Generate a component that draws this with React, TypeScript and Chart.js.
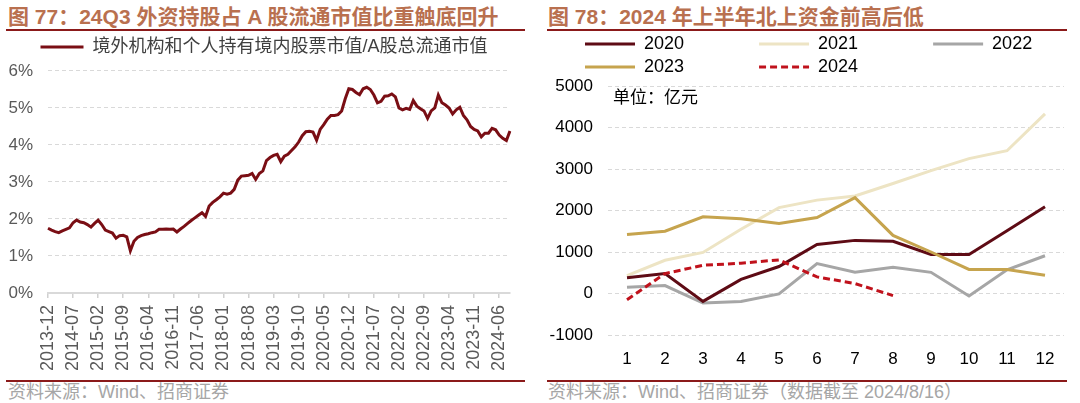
import React, { useEffect, useRef } from "react";
import { Chart, registerables } from "chart.js";

Chart.register(...registerables);

const FONT = '"Liberation Sans", "Noto Sans CJK SC", sans-serif';

// ---------- Figure 77 data ----------
const shareSeriesName = "境外机构和个人持有境内股票市值/A股总流通市值";
// monthly, 2013-12 .. 2024-09 (%)
const shareValues = [
  1.75, 1.7, 1.66, 1.63, 1.68, 1.72, 1.76, 1.9, 1.97, 1.92, 1.9, 1.85,
  1.78, 1.88, 1.97, 1.85, 1.7, 1.66, 1.62, 1.48, 1.55, 1.56, 1.52, 1.14,
  1.4, 1.5, 1.55, 1.58, 1.6, 1.63, 1.65, 1.72, 1.72, 1.73, 1.72, 1.73,
  1.65, 1.73, 1.8, 1.88, 1.96, 2.03, 2.1, 2.17, 2.07, 2.35, 2.45, 2.52,
  2.6, 2.7, 2.67, 2.7, 2.8, 3.05, 3.16, 3.17, 3.18, 3.23, 3.07, 3.23,
  3.3, 3.58, 3.66, 3.72, 3.75, 3.55, 3.7, 3.75, 3.85, 3.95, 4.08, 4.25,
  4.36, 4.37, 4.35, 4.13, 4.42, 4.55, 4.7, 4.8, 4.8, 4.82, 4.92, 5.25,
  5.52, 5.5, 5.42, 5.36, 5.52, 5.56, 5.5, 5.35, 5.14, 5.18, 5.32, 5.33,
  5.38, 5.3, 5.0, 4.95, 4.99, 4.96, 5.2, 5.05, 4.98, 4.92, 4.72, 4.92,
  5.0, 5.35, 5.14, 5.08, 5.0, 4.84, 4.95, 5.02, 4.8, 4.68, 4.5, 4.42,
  4.38, 4.22, 4.32, 4.32, 4.45, 4.41, 4.27, 4.18, 4.12, 4.38,
];
const shareMonths = shareValues.map((_, i) => {
  const m = 11 + i;
  const y = 2013 + Math.floor(m / 12);
  const mm = (m % 12) + 1;
  return `${y}-${String(mm).padStart(2, "0")}`;
});
const shareTickStep = 7;
const shareYTicks = [0, 1, 2, 3, 4, 5, 6];

// ---------- Figure 78 data ----------
const monthLabels = ["1", "2", "3", "4", "5", "6", "7", "8", "9", "10", "11", "12"];
const flow2020 = [380, 480, -190, 340, 650, 1180, 1280, 1260, 940, 940, 1510, 2090];
const flow2021 = [430, 800, 990, 1550, 2070, 2250, 2350, 2650, 2960, 3250, 3440, 4330];
const flow2022 = [150, 190, -230, -190, -10, 720, 510, 630, 510, -60, 570, 910];
const flow2023 = [1420, 1500, 1850, 1800, 1690, 1830, 2310, 1400, 1000, 580, 580, 440];
const flow2024 = [-150, 480, 680, 730, 810, 400, 240, -50];
const flowYTicks = [-1000, 0, 1000, 2000, 3000, 4000, 5000];

const TITLE_COLOR = "#B9704F";
const RULE_COLOR = "#8B1A1A";
const SOURCE_COLOR = "#A6A6A6";

function legendFromDatasets(padIdx: number[], spaces: number) {
  return (chart: any) => {
    const items = (Chart as any).defaults.plugins.legend.labels.generateLabels(chart);
    return items.map((it: any) => {
      const ds: any = chart.data.datasets[it.datasetIndex];
      return {
        ...it,
        lineWidth: ds.borderWidth,
        lineDash: ds.borderDash || [],
        strokeStyle: ds.borderColor,
        text: padIdx.includes(it.datasetIndex) ? it.text + " ".repeat(spaces) : it.text,
      };
    });
  };
}

// shifts the legend block to the right after layout (legend indented relative to axis labels)
const legendIndent = (px: number) => ({
  id: "legendIndent",
  afterLayout(chart: any) {
    if (chart.legend) chart.legend.left += px;
  },
});

function ShareChart() {
  const ref = useRef<HTMLCanvasElement>(null);
  useEffect(() => {
    const chart = new Chart(ref.current!, {
      type: "line",
      data: {
        labels: shareMonths,
        datasets: [
          {
            label: shareSeriesName,
            data: shareValues,
            borderColor: "#7A0E14",
            backgroundColor: "#7A0E14",
            borderWidth: 3,
            pointRadius: 0,
            tension: 0,
          },
        ],
      },
      options: {
        responsive: false,
        animation: false,
        devicePixelRatio: 1,
        layout: { padding: { left: 8, right: 8, top: 0, bottom: 0 } },
        plugins: {
          legend: {
            display: true,
            position: "top",
            align: "center",
            labels: {
              usePointStyle: true,
              pointStyle: "line",
              pointStyleWidth: 43,
              padding: 5,
              color: "#404040",
              font: { family: FONT, size: 18 },
              generateLabels: legendFromDatasets([], 0),
            },
          },
          tooltip: { enabled: false },
        },
        scales: {
          x: {
            type: "category",
            offset: false,
            grid: {
              display: true,
              drawOnChartArea: false,
              drawTicks: true,
              tickLength: 5,
              color: "#D0D0D0",
              lineWidth: 1.5,
            },
            border: { display: true, color: "#D9D9D9", width: 2 },
            ticks: {
              autoSkip: false,
              minRotation: 90,
              maxRotation: 90,
              padding: 7,
              color: "#595959",
              font: { family: FONT, size: 18 },
              callback: (_v: any, i: number) => (i % shareTickStep === 0 ? shareMonths[i] : null),
            },
            afterFit: (s: any) => {
              s.height = 85;
            },
          } as any,
          y: {
            min: 0,
            max: 6.135,
            afterBuildTicks: (s: any) => {
              s.ticks = shareYTicks.map((v) => ({ value: v }));
            },
            grid: { color: "#D9D9D9", lineWidth: 1, drawTicks: false },
            border: { display: false, dash: [4, 3] },
            ticks: {
              padding: 15,
              color: "#595959",
              font: { family: FONT, size: 17 },
              callback: (v: any) => v + "%",
            },
            afterFit: (s: any) => {
              s.width = 40;
            },
          } as any,
        },
      },
    });
    return () => chart.destroy();
  }, []);
  return (
    <canvas
      ref={ref}
      width={528}
      height={345}
      style={{ position: "absolute", left: 0, top: 33, width: 528, height: 345 }}
    />
  );
}

function FlowChart() {
  const ref = useRef<HTMLCanvasElement>(null);
  useEffect(() => {
    const mk = (label: string, data: number[], color: string, order: number, dash?: number[]) => ({
      label,
      data,
      borderColor: color,
      backgroundColor: color,
      borderWidth: 3,
      borderDash: dash,
      pointRadius: 0,
      tension: 0,
      order,
    });
    const chart = new Chart(ref.current!, {
      type: "line",
      data: {
        labels: monthLabels,
        datasets: [
          mk("2020", flow2020, "#5E0B15", 2),
          mk("2021", flow2021, "#EDE4C4", 4),
          mk("2022", flow2022, "#A6A6A6", 3),
          mk("2023", flow2023, "#C6A44E", 1),
          mk("2024", flow2024, "#C0121C", 0, [7, 4]),
        ] as any,
      },
      plugins: [legendIndent(33)],
      options: {
        responsive: false,
        animation: false,
        devicePixelRatio: 1,
        layout: { padding: { left: 7, right: 16, top: 0, bottom: 0 } },
        plugins: {
          legend: {
            display: true,
            position: "top",
            align: "start",
            labels: {
              usePointStyle: true,
              pointStyle: "line",
              pointStyleWidth: 50,
              padding: 5,
              color: "#000000",
              font: { family: FONT, size: 18 },
              sort: (a: any, b: any) => a.datasetIndex - b.datasetIndex,
              generateLabels: legendFromDatasets([0, 1, 3], 14),
            },
          },
          tooltip: { enabled: false },
        },
        scales: {
          x: {
            type: "category",
            offset: true,
            grid: { display: false, drawTicks: false },
            border: { display: false },
            ticks: {
              padding: 14,
              color: "#000000",
              font: { family: FONT, size: 17 },
              autoSkip: false,
              maxRotation: 0,
            },
            afterFit: (s: any) => {
              s.height = 43;
            },
          } as any,
          y: {
            min: -1000,
            max: 5000,
            afterBuildTicks: (s: any) => {
              s.ticks = flowYTicks.map((v) => ({ value: v }));
            },
            grid: { color: "#D9D9D9", lineWidth: 1, drawTicks: false },
            border: { display: false, dash: [4, 3] },
            ticks: {
              padding: 15,
              color: "#000000",
              font: { family: FONT, size: 17 },
              callback: (v: any) => String(v),
            },
            afterFit: (s: any) => {
              s.width = 61;
            },
          } as any,
        },
      },
    });
    return () => chart.destroy();
  }, []);
  return (
    <canvas
      ref={ref}
      width={540}
      height={348}
      style={{ position: "absolute", left: 540, top: 30, width: 540, height: 348 }}
    />
  );
}

const abs = (o: React.CSSProperties): React.CSSProperties => ({ position: "absolute", whiteSpace: "nowrap", ...o });

export default function App() {
  return (
    <div
      style={{
        position: "fixed",
        left: 0,
        top: 0,
        width: 1080,
        height: 403,
        background: "#ffffff",
        overflow: "hidden",
        fontFamily: FONT,
      }}
    >
      <ShareChart />
      <FlowChart />
      <div style={abs({ left: 8, top: 5, fontSize: 21, lineHeight: "24px", fontWeight: "bold", color: TITLE_COLOR })}>
        图 77：24Q3 外资持股占 A 股流通市值比重触底回升
      </div>
      <div style={abs({ left: 548, top: 5, fontSize: 21, lineHeight: "24px", fontWeight: "bold", color: TITLE_COLOR })}>
        图 78：2024 年上半年北上资金前高后低
      </div>
      <div style={abs({ left: 6, top: 29, width: 519, height: 2, background: RULE_COLOR })} />
      <div style={abs({ left: 547, top: 29, width: 520, height: 2, background: RULE_COLOR })} />
      <div style={abs({ left: 6, top: 380, width: 519, height: 2, background: RULE_COLOR })} />
      <div style={abs({ left: 547, top: 380, width: 520, height: 2, background: RULE_COLOR })} />
      <div style={abs({ left: 613, top: 87, fontSize: 17, lineHeight: "22px", color: "#000" })}>单位：亿元</div>
      <div style={abs({ left: 8, top: 382, fontSize: 18, lineHeight: "20px", color: SOURCE_COLOR })}>
        资料来源：Wind、招商证券
      </div>
      <div style={abs({ left: 548, top: 382, fontSize: 18, lineHeight: "20px", color: SOURCE_COLOR })}>
        资料来源：Wind、招商证券（数据截至 2024/8/16）
      </div>
    </div>
  );
}
